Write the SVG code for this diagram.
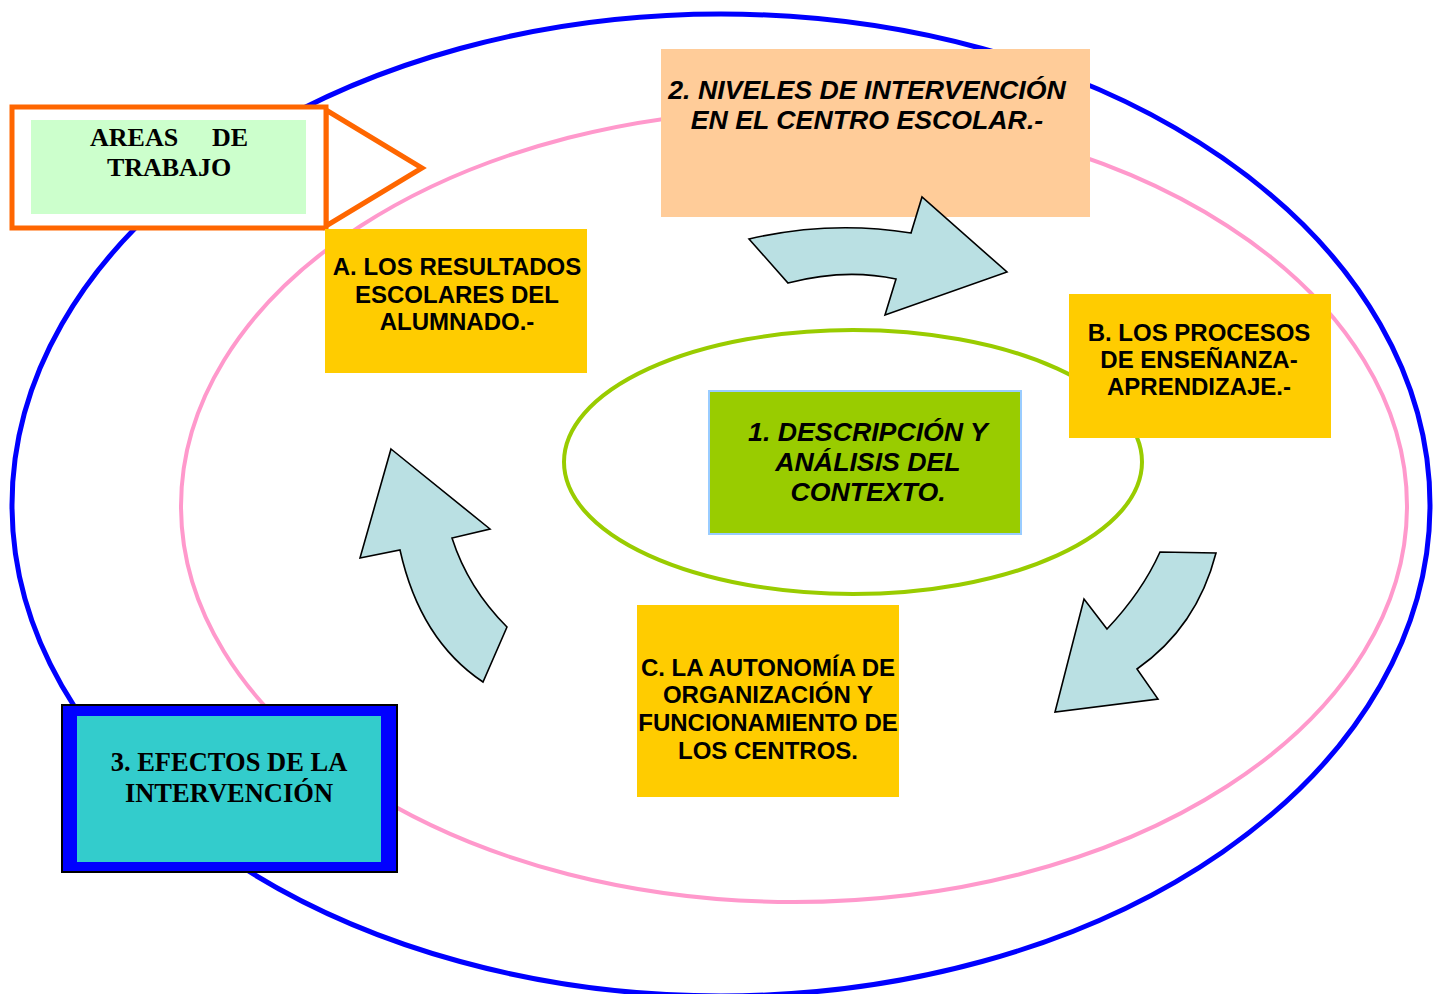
<svg xmlns="http://www.w3.org/2000/svg" width="1437" height="994" viewBox="0 0 1437 994">
<style>
.sans{font-family:"Liberation Sans",Arial,sans-serif;font-weight:bold;fill:#000}
.serif{font-family:"Liberation Serif","Times New Roman",serif;font-weight:bold;fill:#000}
.it{font-style:italic}
.arrow{fill:#BAE0E3;stroke:#000;stroke-width:1.6;stroke-linejoin:miter}
</style>
<rect width="1437" height="994" fill="#fff"/>
<g id="rings" fill="none">
<ellipse cx="721" cy="505" rx="709" ry="491" stroke="#0000FF" stroke-width="5"/>
<ellipse cx="794" cy="506" rx="613" ry="396" stroke="#FF99CC" stroke-width="4"/>
<ellipse cx="853" cy="462" rx="289" ry="132" stroke="#99CC00" stroke-width="4"/>
</g>
<g id="areas">
<polygon points="326,110 422,168 326,226" fill="#fff" stroke="#FF6600" stroke-width="5"/>
<rect x="12" y="107" width="314" height="121" fill="#fff" stroke="#FF6600" stroke-width="5"/>
<rect x="31" y="120" width="275" height="94" fill="#CCFFCC"/>
<text class="serif" x="90" y="146" font-size="26">AREAS</text>
<text class="serif" x="248" y="146" font-size="26" text-anchor="end">DE</text>
<text class="serif" x="169" y="176" font-size="26" text-anchor="middle">TRABAJO</text>
</g>
<g id="niveles">
<rect x="661" y="49" width="429" height="168" fill="#FFCC99"/>
<text class="sans it" font-size="26.7" text-anchor="middle"><tspan x="867" y="99">2. NIVELES DE INTERVENCIÓN</tspan><tspan x="867" y="129">EN EL CENTRO ESCOLAR.-</tspan></text>
</g>
<g id="resultados">
<rect x="325" y="229" width="262" height="144" fill="#FFCC00"/>
<text class="sans" font-size="24" text-anchor="middle"><tspan x="457" y="275">A. LOS RESULTADOS</tspan><tspan x="457" y="303">ESCOLARES DEL</tspan><tspan x="457" y="330">ALUMNADO.-</tspan></text>
</g>
<g id="procesos">
<rect x="1069" y="294" width="262" height="144" fill="#FFCC00"/>
<text class="sans" font-size="24" text-anchor="middle"><tspan x="1199" y="341">B. LOS PROCESOS</tspan><tspan x="1199" y="368">DE ENSEÑANZA-</tspan><tspan x="1199" y="395">APRENDIZAJE.-</tspan></text>
</g>
<g id="autonomia">
<rect x="637" y="605" width="262" height="192" fill="#FFCC00"/>
<text class="sans" font-size="24" text-anchor="middle"><tspan x="768" y="676">C. LA AUTONOMÍA DE</tspan><tspan x="768" y="703">ORGANIZACIÓN Y</tspan><tspan x="768" y="731">FUNCIONAMIENTO DE</tspan><tspan x="768" y="759">LOS CENTROS.</tspan></text>
</g>
<g id="descripcion">
<rect x="709" y="391" width="312" height="143" fill="#99CC00" stroke="#99CCFF" stroke-width="2"/>
<text class="sans it" font-size="26.7" text-anchor="middle"><tspan x="868" y="441">1. DESCRIPCIÓN Y</tspan><tspan x="868" y="471">ANÁLISIS DEL</tspan><tspan x="868" y="501">CONTEXTO.</tspan></text>
</g>
<g id="efectos">
<rect x="62" y="705" width="335" height="167" fill="#0000FF" stroke="#000" stroke-width="2"/>
<rect x="77" y="716" width="304" height="146" fill="#33CCCC"/>
<text class="serif" font-size="26.5" text-anchor="middle"><tspan x="229" y="771">3. EFECTOS DE LA</tspan><tspan x="229" y="802">INTERVENCIÓN</tspan></text>
</g>
<g id="connectors">
<path class="arrow" d="M749,239 Q830,220 911,233 L922,197 L1007,272 L885,315 L896,279 Q845,268 788,283 Z"/>
<path class="arrow" d="M1160,552 L1216,553 Q1197,627 1137,669 L1158,699 L1055,712 L1084,599 L1107,629 Q1142,592 1160,552 Z"/>
<path class="arrow" d="M391,449 L490,529 L452,538 Q468,588 507,627 L483,682 Q420,640 400,550 L360,558 Z"/>
</g>
</svg>
